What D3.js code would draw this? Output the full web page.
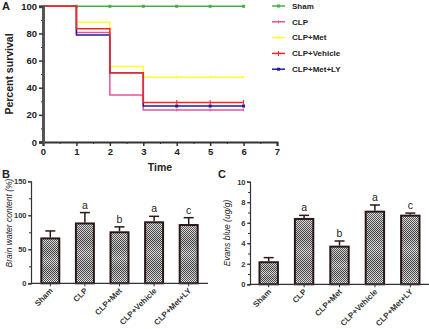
<!DOCTYPE html>
<html>
<head>
<meta charset="utf-8">
<script src="https://cdn.jsdelivr.net/npm/d3@7"></script>
<style>
  body { margin: 0; background: #fff; }
  svg { display: block; font-family: "Liberation Sans", Arial, sans-serif; }
</style>
</head>
<body>
<div id="canvas"></div>
<script>
"use strict"

/***********************************
 DATA
************************************/
let groups = ["Sham", "CLP", "CLP+Met", "CLP+Vehicle", "CLP+Met+LY"];
let days = [0, 1, 2, 3, 4, 5, 6];

// percent survival per day
let survSham = [100, 100, 100, 100, 100, 100, 100];
let survClp = [100, 80.7, 34.6, 23.6, 23.6, 23.6, 23.6];
let survMet = [100, 88.2, 55.7, 47.8, 47.8, 47.8, 47.8];
let survVehicle = [100, 83.5, 51, 29.2, 29.2, 29.2, 29.2];
let survLy = [100, 78.8, 51, 26.5, 26.5, 26.5, 26.5];

// brain water content (%)
let waterMean = [66, 88, 75, 89.7, 85.7];
let waterErr = [11, 16, 8, 8.8, 10.8];

// Evans blue (ug/g)
let evansMean = [2.15, 6.37, 3.67, 7.08, 6.69];
let evansErr = [0.45, 0.35, 0.55, 0.65, 0.25];

let sigLetters = ["", "a", "b", "a", "c"];

let xTicksA = [0, 1, 2, 3, 4, 5, 6, 7];
let yTicksA = [0, 20, 40, 60, 80, 100];
let yTicksB = [0, 50, 100, 150];
let yTicksC = [0, 2, 4, 6, 8, 10];

/***********************************
 CANVAS
************************************/
let svgWidth = 429;
let svgHeight = 329;
let axisColor = "#333";

let svg = d3.select("#canvas")
    .append("svg")
    .attr("width", svgWidth)
    .attr("height", svgHeight);

// checker pattern for the bars
let defs = svg.append("defs");
let pat = defs.append("pattern")
    .attr("id", "checker")
    .attr("width", 2)
    .attr("height", 2)
    .attr("patternUnits", "userSpaceOnUse");
pat.append("rect").attr("width", 2).attr("height", 2).attr("fill", "#dcdcdc");
pat.append("rect").attr("width", 1).attr("height", 1).attr("fill", "#444");
pat.append("rect").attr("x", 1).attr("y", 1).attr("width", 1).attr("height", 1).attr("fill", "#444");

let grad = defs.append("linearGradient")
    .attr("id", "bands")
    .attr("x1", 0).attr("y1", 0).attr("x2", 0).attr("y2", 1);
[[0, "#fff", 0.15], [0.3, "#000", 0.1], [0.5, "#fff", 0.12], [0.7, "#000", 0.1], [1, "#fff", 0.15]]
    .forEach(s => grad.append("stop")
        .attr("offset", s[0]).attr("stop-color", s[1]).attr("stop-opacity", s[2]));

/***********************************
 PANEL A - SURVIVAL
************************************/
let xA = d3.scaleLinear().domain([0, 7]).range([43, 277]);
let yA = d3.scaleLinear().domain([0, 100]).range([142, 6.3]);

let series = [
    { name: "Sham", values: survSham, color: "#45b045", mark: "dot" },
    { name: "CLP", values: survClp, color: "#e2559c", mark: "tick" },
    { name: "CLP+Met", values: survMet, color: "#ffff30", mark: "tick" },
    { name: "CLP+Met+LY", values: survLy, color: "#1c1ca0", mark: "square" },
    { name: "CLP+Vehicle", values: survVehicle, color: "#ff2424", mark: "plus" }
];

let stepLine = d3.line()
    .x((d, i) => xA(days[i]))
    .y(d => yA(d))
    .curve(d3.curveStepAfter);

function drawMark(g, x, y, s) {
    if (s.mark === "dot" || s.mark === "square") {
        g.append("rect")
            .attr("x", x - 1.5).attr("y", y - 1.5)
            .attr("width", 3).attr("height", 3)
            .attr("fill", s.color);
    } else {
        g.append("line")
            .attr("x1", x).attr("x2", x)
            .attr("y1", y - (s.mark === "plus" ? 2.5 : 1.5))
            .attr("y2", y + (s.mark === "plus" ? 2.5 : 1.5))
            .attr("stroke", s.color).attr("stroke-width", 1);
    }
}

let gA = svg.append("g");

series.forEach(s => {
    gA.append("path")
        .datum(s.values)
        .attr("fill", "none")
        .attr("stroke", s.color)
        .attr("stroke-width", 1.5)
        .attr("d", stepLine);
    let markDays = s.name === "Sham" ? [1, 2, 3, 4, 5, 6] : [4, 5, 6];
    markDays.forEach(d => drawMark(gA, xA(d), yA(s.values[days.indexOf(d)]), s));
});

// x axis A
gA.append("g")
    .attr("transform", "translate(0,142)")
    .call(d3.axisBottom(xA).tickValues(d3.range(0.5, 7, 1)).tickSize(2).tickFormat(""))
    .call(g => g.select(".domain").remove())
    .selectAll("line").attr("stroke", axisColor);
let axA = gA.append("g")
    .attr("transform", "translate(0,142)")
    .call(d3.axisBottom(xA).tickValues(xTicksA).tickSize(4).tickPadding(2).tickFormat(d3.format("d")));
axA.select(".domain").attr("stroke", axisColor).attr("stroke-width", 2);
axA.selectAll("line").attr("stroke", axisColor).attr("stroke-width", 1.5);
axA.selectAll("text").attr("font-size", 9.5).attr("font-weight", "bold").attr("fill", "#222");

// y axis A
gA.append("g")
    .attr("transform", "translate(43,0)")
    .call(d3.axisLeft(yA).tickValues(d3.range(10, 100, 20)).tickSize(2).tickFormat(""))
    .call(g => g.select(".domain").remove())
    .selectAll("line").attr("stroke", axisColor);
let ayA = gA.append("g")
    .attr("transform", "translate(43,0)")
    .call(d3.axisLeft(yA).tickValues(yTicksA).tickSize(4).tickPadding(2));
ayA.select(".domain").attr("stroke", "#555").attr("stroke-width", 3);
ayA.selectAll("line").attr("stroke", axisColor).attr("stroke-width", 1.5);
ayA.selectAll("text").attr("font-size", 9.5).attr("font-weight", "bold").attr("fill", "#222");

gA.append("text")
    .attr("transform", "translate(13,74) rotate(-90)")
    .attr("text-anchor", "middle")
    .attr("font-size", 10.5).attr("font-weight", "bold").attr("fill", "#222")
    .text("Percent survival");

gA.append("text")
    .attr("x", 160).attr("y", 171)
    .attr("text-anchor", "middle")
    .attr("font-size", 10.5).attr("font-weight", "bold").attr("fill", "#222")
    .text("Time");

// legend
let legendOrder = ["Sham", "CLP", "CLP+Met", "CLP+Vehicle", "CLP+Met+LY"];
legendOrder.forEach((name, i) => {
    let s = series.find(d => d.name === name);
    let y = 6 + i * 15.8;
    gA.append("line")
        .attr("x1", 272).attr("x2", 285)
        .attr("y1", y).attr("y2", y)
        .attr("stroke", s.color).attr("stroke-width", 1.5);
    drawMark(gA, 278.5, y, s);
    gA.append("text")
        .attr("x", 292).attr("y", y + 2.8)
        .attr("font-size", 8).attr("font-weight", "bold").attr("fill", "#222")
        .text(name);
});

/***********************************
 BAR PANELS B & C
************************************/
function barPanel(opt) {
    let g = svg.append("g");
    let x = d3.scaleBand().domain(groups).range(opt.xRange).paddingInner(0.48).paddingOuter(0.24);
    let y = d3.scaleLinear().domain(opt.yDomain).range([opt.y0, opt.yTop]);

    g.selectAll(".bar")
        .data(opt.mean)
        .join("rect")
        .attr("x", (d, i) => x(groups[i]))
        .attr("y", d => y(d))
        .attr("width", x.bandwidth())
        .attr("height", d => opt.y0 - y(d))
        .attr("fill", "url(#checker)");
    g.selectAll(".band")
        .data(opt.mean)
        .join("rect")
        .attr("x", (d, i) => x(groups[i]))
        .attr("y", d => y(d))
        .attr("width", x.bandwidth())
        .attr("height", d => opt.y0 - y(d))
        .attr("fill", "url(#bands)")
        .attr("stroke", "#2a1818")
        .attr("stroke-width", 2);

    // error bars (upper only)
    opt.mean.forEach((m, i) => {
        let cx = x(groups[i]) + x.bandwidth() / 2;
        let top = y(m + opt.err[i]);
        g.append("line")
            .attr("x1", cx).attr("x2", cx)
            .attr("y1", y(m) - 1).attr("y2", top)
            .attr("stroke", "#2a1818").attr("stroke-width", 1.5);
        g.append("line")
            .attr("x1", cx - 5).attr("x2", cx + 5)
            .attr("y1", top).attr("y2", top)
            .attr("stroke", "#2a1818").attr("stroke-width", 1.5);
        if (sigLetters[i]) {
            g.append("text")
                .attr("x", cx).attr("y", top - 4)
                .attr("text-anchor", "middle")
                .attr("font-size", 10.5).attr("fill", "#222")
                .text(sigLetters[i]);
        }
    });

    // axes
    let ax = g.append("g")
        .attr("transform", `translate(0,${opt.y0})`)
        .call(d3.axisBottom(x).tickSize(3).tickFormat(""));
    ax.select(".domain").attr("d", `M${opt.axisX},0H${opt.xRange[1] + 2}`)
        .attr("stroke", axisColor).attr("stroke-width", 1.2);
    ax.selectAll("line").attr("stroke", axisColor);

    groups.forEach(name => {
        let cx = x(name) + x.bandwidth() / 2;
        g.append("text")
            .attr("transform", `translate(${cx + 3},${opt.y0 + 8}) rotate(-45)`)
            .attr("text-anchor", "end")
            .attr("font-size", 8).attr("font-weight", "bold").attr("fill", "#333")
            .text(name);
    });

    let yMinor = d3.range(opt.yDomain[0], opt.yDomain[1], opt.minorStep);
    g.append("g")
        .attr("transform", `translate(${opt.axisX},0)`)
        .call(d3.axisLeft(y).tickValues(yMinor).tickSize(2).tickFormat(""))
        .call(a => a.select(".domain").remove())
        .selectAll("line").attr("stroke", axisColor);
    let ay = g.append("g")
        .attr("transform", `translate(${opt.axisX},0)`)
        .call(d3.axisLeft(y).tickValues(opt.yTicks).tickSize(3).tickPadding(1.5));
    ay.select(".domain").attr("stroke", axisColor).attr("stroke-width", 1.2);
    ay.selectAll("line").attr("stroke", axisColor);
    ay.selectAll("text").attr("font-size", 7.5).attr("font-weight", "bold").attr("fill", "#333");

    g.append("text")
        .attr("transform", `translate(${opt.labelX},${opt.labelY}) rotate(-90)`)
        .attr("text-anchor", "middle")
        .attr("font-size", 8.5).attr("font-style", "italic").attr("fill", "#222")
        .text(opt.label);

    g.append("text")
        .attr("x", opt.letterX).attr("y", 178)
        .attr("font-size", 11).attr("font-weight", "bold").attr("fill", "#222")
        .text(opt.letter);
}

barPanel({
    mean: waterMean, err: waterErr,
    xRange: [33, 206], axisX: 31,
    yDomain: [0, 150], yTicks: yTicksB, minorStep: 25,
    y0: 283.3, yTop: 181.3,
    label: "Brain water content (%)", labelX: 12, labelY: 223,
    letter: "B", letterX: 2
});

barPanel({
    mean: evansMean, err: evansErr,
    xRange: [251, 428], axisX: 250,
    yDomain: [0, 10], yTicks: yTicksC, minorStep: 1,
    y0: 284.3, yTop: 181.7,
    label: "Evans blue (ug/g)", labelX: 230, labelY: 233,
    letter: "C", letterX: 218
});

svg.append("text")
    .attr("x", 2).attr("y", 10)
    .attr("font-size", 11).attr("font-weight", "bold").attr("fill", "#222")
    .text("A");
</script>
</body>
</html>
